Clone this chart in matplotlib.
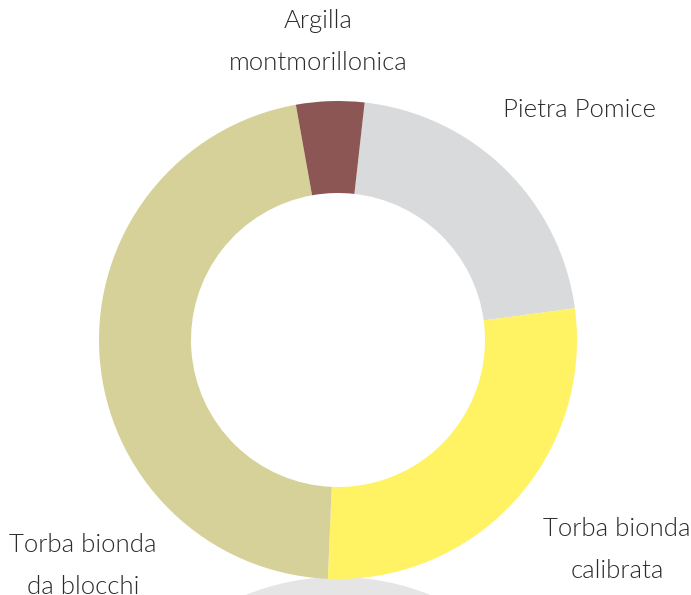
import matplotlib
matplotlib.use("Agg")
import matplotlib.pyplot as plt
from matplotlib.patches import Circle

labels = ["Pietra Pomice", "Torba bionda\ncalibrata", "Torba bionda\nda blocchi", "Argilla\nmontmorillonica"]
values = [21.1, 27.8, 46.5, 4.6]
colors = ["#D9DADB", "#FFF263", "#D6D198", "#8B5654"]

W, H = 691, 595
fig = plt.figure(figsize=(W / 100, H / 100), dpi=100)
ax = fig.add_axes([0, 0, 1, 1])

cx, cy, R = 338, H - 340, 239
# part of next chart peeking at the bottom
ax.add_patch(Circle((cx, 18 - 246), 246, color="#E5E5E6", lw=0))

ax.pie(values, colors=colors, center=(cx, cy), radius=R, startangle=83.6,
       counterclock=False, wedgeprops=dict(width=R - 147, linewidth=0), frame=True)
ax.set_xlim(0, W)
ax.set_ylim(0, H)
ax.set_aspect("equal")
ax.axis("off")

font = dict(family=["Lato", "DejaVu Sans"], fontweight=300, color="#2b2b2b",
            fontsize=18.5, ha="center", va="center", linespacing=1.9)
pos = [(580, H - 110), (617, H - 550), (83, H - 566), (318, H - 42)]
for lab, (x, y) in zip(labels, pos):
    ax.text(x, y, lab, **font)

fig.savefig("out.png", dpi=100)
